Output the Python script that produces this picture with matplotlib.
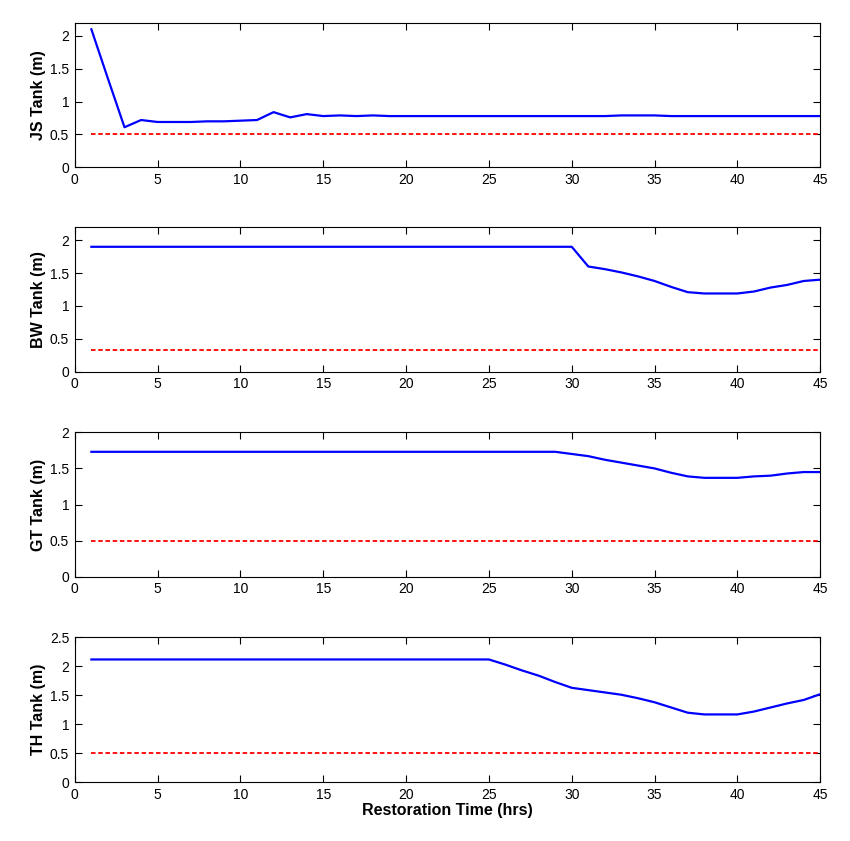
import matplotlib
matplotlib.use("Agg")
import matplotlib.pyplot as plt
import numpy as np

plt.rcParams['font.family'] = ['Liberation Sans', 'DejaVu Sans']

# %% Data (hourly, t = 1..45)

hours = list(range(1, 46))

js_tank = [2.10, 1.35, 0.61, 0.72, 0.69, 0.69, 0.69, 0.70, 0.70, 0.71,
           0.72, 0.84, 0.76, 0.81, 0.78, 0.79, 0.78, 0.79, 0.78, 0.78,
           0.78, 0.78, 0.78, 0.78, 0.78, 0.78, 0.78, 0.78, 0.78, 0.78,
           0.78, 0.78, 0.79, 0.79, 0.79, 0.78, 0.78, 0.78, 0.78, 0.78,
           0.78, 0.78, 0.78, 0.78, 0.78]

bw_tank = [1.90] * 30 + [1.60, 1.56, 1.51, 1.45, 1.38, 1.29, 1.21, 1.19,
                         1.19, 1.19, 1.22, 1.28, 1.32, 1.38, 1.40]

gt_tank = [1.73] * 29 + [1.70, 1.67, 1.62, 1.58, 1.54, 1.50, 1.44, 1.39,
                         1.37, 1.37, 1.37, 1.39, 1.40, 1.43, 1.45, 1.45]

th_tank = [2.12] * 25 + [2.03, 1.93, 1.84, 1.73, 1.63, 1.59, 1.55, 1.51,
                         1.45, 1.38, 1.29, 1.20, 1.17, 1.17, 1.17, 1.22,
                         1.29, 1.36, 1.42, 1.52]

# minimum levels (red dashed lines)
js_min = 0.5
bw_min = 0.33
gt_min = 0.5
th_min = 0.5

labels = ['JS Tank (m)', 'BW Tank (m)', 'GT Tank (m)', 'TH Tank (m)']
series = [js_tank, bw_tank, gt_tank, th_tank]
minimums = [js_min, bw_min, gt_min, th_min]
ylims = [2.2, 2.2, 2.0, 2.5]
yticks = [[0, 0.5, 1, 1.5, 2], [0, 0.5, 1, 1.5, 2],
          [0, 0.5, 1, 1.5, 2], [0, 0.5, 1, 1.5, 2, 2.5]]

# %% Plot

fig = plt.figure(figsize=(8.5, 8.41), dpi=100)

left, width = 0.088, 0.877
bottoms = [0.801, 0.558, 0.314, 0.070]
height = 0.172

for i in range(4):
    ax = fig.add_axes([left, bottoms[i], width, height])
    ax.plot(hours, series[i], color='blue', linewidth=1.6)
    ax.plot([hours[0], hours[-1]], [minimums[i], minimums[i]],
            color='red', linestyle='--', linewidth=1.3, dashes=(2.5, 1.5))
    ax.set_xlim(0, 45)
    ax.set_ylim(0, ylims[i])
    ax.set_xticks(range(0, 46, 5))
    ax.set_yticks(yticks[i])
    ax.set_yticklabels([('%g' % v) for v in yticks[i]])
    ax.tick_params(direction='in', top=True, right=True, labelsize=10,
                   length=5, width=0.8, pad=4)
    ax.set_ylabel(labels[i], fontsize=11.5, fontweight='bold', labelpad=3)
    for sp in ax.spines.values():
        sp.set_linewidth(0.8)
    if i == 3:
        ax.set_xlabel('Restoration Time (hrs)', fontsize=11.5,
                      fontweight='bold', labelpad=1)

fig.savefig('out.png', dpi=100)
